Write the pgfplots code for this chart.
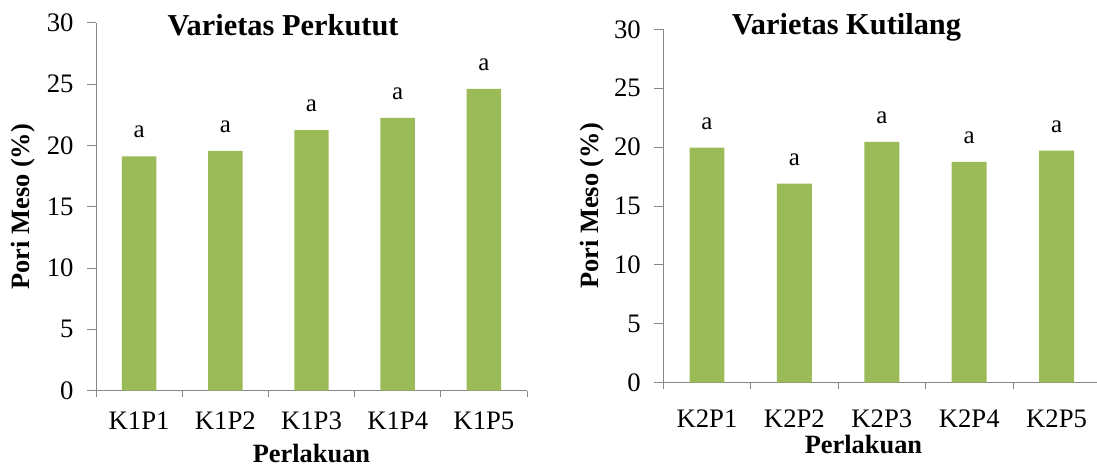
\documentclass[border=0pt]{standalone}
\usepackage{pgfplots}
\pgfplotsset{compat=1.18}
\usepackage{fontspec}
\setmainfont{Liberation Serif}
\definecolor{barg}{HTML}{9BBB59}
\definecolor{axg}{HTML}{868686}
\pgfplotsset{
 myax/.style={
  scale only axis, ybar, bar width=0.4, clip=false,
  ymin=0, ymax=30, ytick={0,5,...,30}, xmin=-0.5, xmax=4.5,
  xtick={0,1,2,3,4},
  minor xtick={-0.5,0.5,1.5,2.5,3.5,4.5},
  axis lines*=left,
  axis line style={axg, line width=0.8bp},
  tick align=outside,
  major tick length=9bp, minor tick length=6bp,
  tick style={axg, line width=0.8bp},
  major x tick style={draw=none},
  tick label style={font=\fontsize{26.8}{30}\selectfont, text=black},
  yticklabel style={xshift=-10bp},
  /pgf/number format/assume math mode=true,
  label style={font=\bfseries\fontsize{26.5}{30}\selectfont},
  title style={font=\bfseries\fontsize{30.5}{34}\selectfont, anchor=center},
  nodes near coords={a},
  every node near coord/.append style={anchor=base, inner sep=0pt, yshift=18.5bp, font=\fontsize{25}{28}\selectfont, text=black},
 }
}
\begin{document}
\begin{tikzpicture}
\path[use as bounding box] (0,0) rectangle (1097bp,468bp);
\begin{axis}[myax,
  at={(96bp,77.3bp)}, anchor=south west,
  width=431bp, height=368bp,
  xticklabels={K1P1,K1P2,K1P3,K1P4,K1P5},
  xticklabel style={yshift=-9bp},
  title={Varietas Perkutut},
  title style={at={(axis description cs:0.434,0.978)}},
  xlabel={Perlakuan},
  xlabel style={at={(axis description cs:0.5,-0.172)}, anchor=center},
  ylabel={Pori Meso (\%)},
  ylabel style={at={(axis description cs:-0.1694,0.5)}, anchor=center},
]
\addplot[fill=barg, draw=none] coordinates {(0,19.1) (1,19.55) (2,21.25) (3,22.25) (4,24.6)};
\end{axis}
\begin{axis}[myax,
  at={(663.3bp,85.3bp)}, anchor=south west,
  width=437bp, height=353.4bp,
  xticklabels={K2P1,K2P2,K2P3,K2P4,K2P5},
  xticklabel style={yshift=-15bp},
  title={Varietas Kutilang},
  title style={at={(axis description cs:0.419,0.99)}},
  xlabel={Perlakuan},
  xlabel style={at={(axis description cs:0.458,-0.175)}, anchor=center},
  ylabel={Pori Meso (\%)},
  ylabel style={at={(axis description cs:-0.1625,0.5)}, anchor=center},
]
\addplot[fill=barg, draw=none] coordinates {(0,19.95) (1,16.9) (2,20.45) (3,18.75) (4,19.7)};
\end{axis}
\end{tikzpicture}
\end{document}
